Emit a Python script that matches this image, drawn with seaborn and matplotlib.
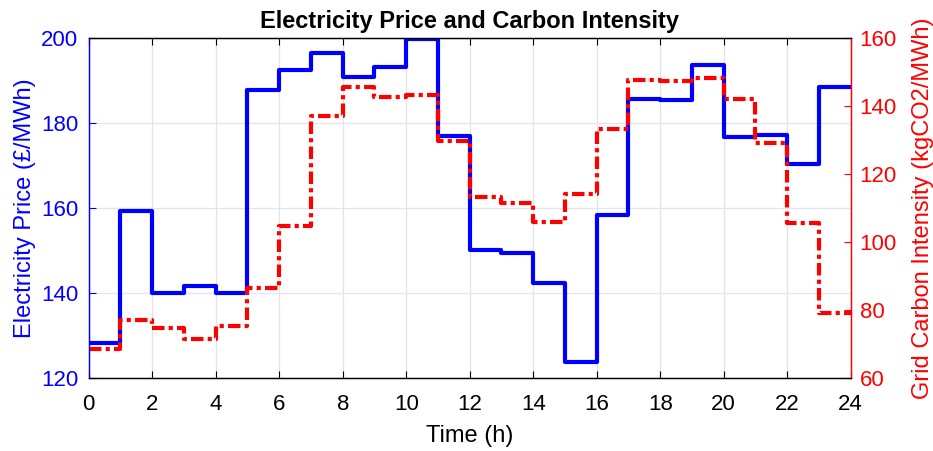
import matplotlib

matplotlib.use("Agg")
import matplotlib.pyplot as plt
import pandas as pd
import seaborn as sns

# hourly values (value holds for the hour starting at `hours`)
hours = list(range(25))
price = [128.2, 159.2, 140.1, 141.6, 140.0, 187.8, 192.3, 196.5, 190.7, 193.2,
         199.8, 176.9, 150.2, 149.4, 142.4, 123.9, 158.4, 185.5, 185.4, 193.5,
         176.6, 177.2, 170.4, 188.5, 188.5]
carbon = [68.5, 77.0, 74.7, 71.5, 75.5, 86.6, 104.6, 136.9, 145.6, 142.6,
          143.1, 129.6, 113.2, 111.6, 106.0, 114.0, 133.2, 147.5, 147.2, 148.2,
          142.1, 129.1, 105.6, 79.1, 79.1]
xticks = list(range(0, 25, 2))
price_ticks = [120, 140, 160, 180, 200]
carbon_ticks = [60, 80, 100, 120, 140, 160]

df = pd.DataFrame({"hour": hours, "price": price, "carbon": carbon})

sns.set_style("ticks")
plt.rcParams["font.family"] = ["Liberation Sans", "DejaVu Sans"]
TICK_FS = 16
LABEL_FS = 17
BLUE = "#0000ff"
RED = "#ff0000"

fig = plt.figure(figsize=(9.33, 4.51), dpi=100)
ax = fig.add_axes([0.0951, 0.1612, 0.8167, 0.7552])
ax2 = ax.twinx()

sns.lineplot(data=df, x="hour", y="price", ax=ax, color=BLUE, linewidth=3,
             drawstyle="steps-post")
sns.lineplot(data=df, x="hour", y="carbon", ax=ax2, color=RED, linewidth=3,
             drawstyle="steps-post", linestyle=(0, (3, 1, 1, 1)))

ax.set_xlim(0, 24)
ax.set_ylim(120, 200)
ax2.set_ylim(60, 160)
ax.set_xticks(xticks)
ax.set_yticks(price_ticks)
ax2.set_yticks(carbon_ticks)

ax.grid(axis="x", color="#e3e3e3", linewidth=0.9)
ax.grid(axis="y", color="#e2e2fb", linewidth=0.9)
ax2.grid(False)

ax.tick_params(axis="x", direction="in", top=True, length=5, width=0.8,
               labelsize=TICK_FS, pad=11, colors="black")
ax.tick_params(axis="y", direction="in", length=5, width=0.8,
               labelsize=TICK_FS, pad=7.5, colors=BLUE)
ax2.tick_params(axis="y", direction="in", length=5, width=0.8,
                labelsize=TICK_FS, pad=6.5, colors=RED)

for a in (ax, ax2):
    for s in a.spines.values():
        s.set_linewidth(0.9)
    a.spines["top"].set_color("black")
    a.spines["bottom"].set_color("black")
    a.spines["left"].set_color(BLUE)
    a.spines["right"].set_color(RED)

ax.set_xlabel("Time (h)", fontsize=LABEL_FS, color="black", labelpad=7.5)
ax.set_ylabel("Electricity Price (£/MWh)", fontsize=LABEL_FS, color=BLUE,
              labelpad=4)
ax2.set_ylabel("Grid Carbon Intensity (kgCO2/MWh)", fontsize=LABEL_FS,
               color=RED, labelpad=11)
ax.set_title("Electricity Price and Carbon Intensity", fontsize=LABEL_FS,
             fontweight="bold", color="black", pad=7)

fig.savefig("out.png", dpi=100)
